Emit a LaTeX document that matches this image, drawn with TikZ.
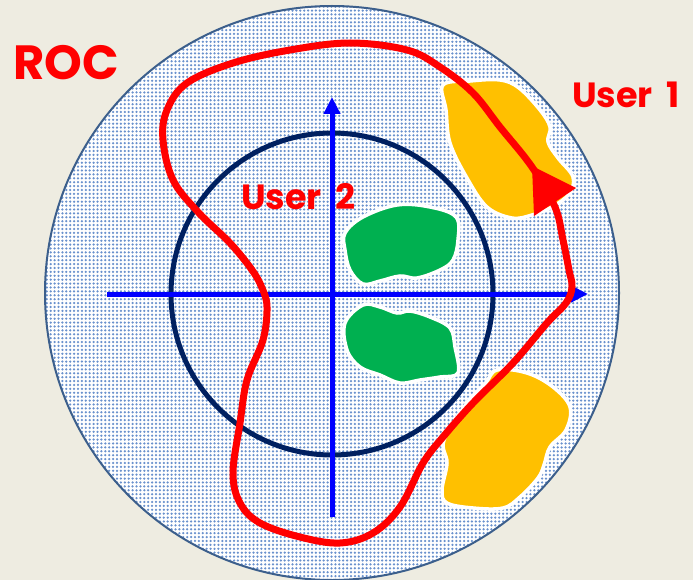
\documentclass[tikz,border=0pt]{standalone}
\usepackage{fontspec}
\setmainfont{Poppins}
\usetikzlibrary{arrows.meta,patterns}
\definecolor{paper}{RGB}{238,236,225}
\definecolor{rimblue}{RGB}{60,95,140}
\definecolor{dotblue}{RGB}{105,145,205}
\definecolor{navy}{RGB}{0,32,96}
\definecolor{blobgold}{RGB}{255,192,0}
\definecolor{blobgreen}{RGB}{0,176,80}
\pgfdeclarepatternformonly{rocdots}{\pgfqpoint{-2pt}{-2pt}}{\pgfqpoint{2pt}{2pt}}{\pgfqpoint{3.9pt}{3.9pt}}{
  \pgfpathcircle{\pgfpointorigin}{1.25pt}\pgfusepath{fill}}
\tikzset{
  axis/.style={blue,line width=5pt,-{Triangle[length=17pt,width=16pt]}},
  blob/.style={draw=white,line width=3.5pt},
  lbl/.style={text=red,font=\bfseries,inner sep=0pt}
}

\begin{document}
\begin{tikzpicture}[x=1pt,y=-1pt]
\useasboundingbox (0,0) rectangle (693,580);
\fill[paper] (0,0) rectangle (693,580);
% region of convergence
\fill[white] (332,293) circle (287);
\fill[pattern=rocdots,pattern color=dotblue] (332,293) circle (287);
\draw[rimblue,line width=2pt] (332,293) circle (287);
% unit circle and axes
\draw[navy,line width=5pt] (332,294) circle (161);
\draw[axis] (107,294) -- (588,294);
\draw[axis] (332,517) -- (332,97);
% poles of user 1
\filldraw[blob,fill=blobgold] plot[smooth cycle,tension=0.6] coordinates {
  (443,85) (470,81) (500,80) (519,88) (540,110) (550,127) (548,142)
  (558,158) (573,177) (569,194) (552,207) (532,215) (512,218)
  (487,207) (467,178) (450,143) (446,110)};
\filldraw[blob,fill=blobgold] plot[smooth cycle,tension=0.6] coordinates {
  (497,370) (527,373) (553,387) (570,407) (566,430) (550,447)
  (544,465) (538,478) (520,497) (503,508) (473,508) (447,503)
  (442,490) (447,463) (444,440) (467,403) (485,384)};
% poles of user 2
\filldraw[blob,fill=blobgreen] plot[smooth cycle,tension=0.6] coordinates {
  (345,233) (363,217) (397,205) (430,207) (456,217) (458,240) (453,260)
  (440,270) (417,278) (400,276) (380,281) (363,284) (350,270) (345,250)};
\filldraw[blob,fill=blobgreen] plot[smooth cycle,tension=0.6] coordinates {
  (345,323) (363,305) (380,307) (397,313) (410,311) (430,317) (450,328)
  (455,347) (458,373) (440,377) (420,380) (400,383) (380,375)
  (360,367) (347,350)};
% contour
\draw[red,line width=7pt] plot[smooth cycle,tension=0.6] coordinates {
  (350,43) (407,50) (440,67) (473,93) (500,127) (532,167) (555,207)
  (563,240) (569,270) (572,287) (566,303) (547,323) (513,363) (473,403)
  (443,437) (423,463) (400,507) (373,533) (340,543) (300,537) (260,523)
  (240,503) (233,473) (240,423) (247,380) (263,340) (267,307) (262,288)
  (252,270) (230,243) (198,212) (173,180) (163,140) (167,110) (187,83)
  (233,63) (290,50)};
\fill[red] (532,166) -- (576,188) -- (534,216) -- cycle;
% labels
\node[lbl,anchor=base west,font=\fontsize{48}{48}\selectfont\bfseries] (roc) at (13,80) {ROC};
\node[lbl,anchor=base west,font=\fontsize{35}{35}\selectfont\bfseries] (user1) at (572,108) {User\ \,1};
\node[lbl,anchor=base west,font=\fontsize{35}{35}\selectfont\bfseries] (user2) at (241,210) {User\ \,2};
\end{tikzpicture}
\end{document}
